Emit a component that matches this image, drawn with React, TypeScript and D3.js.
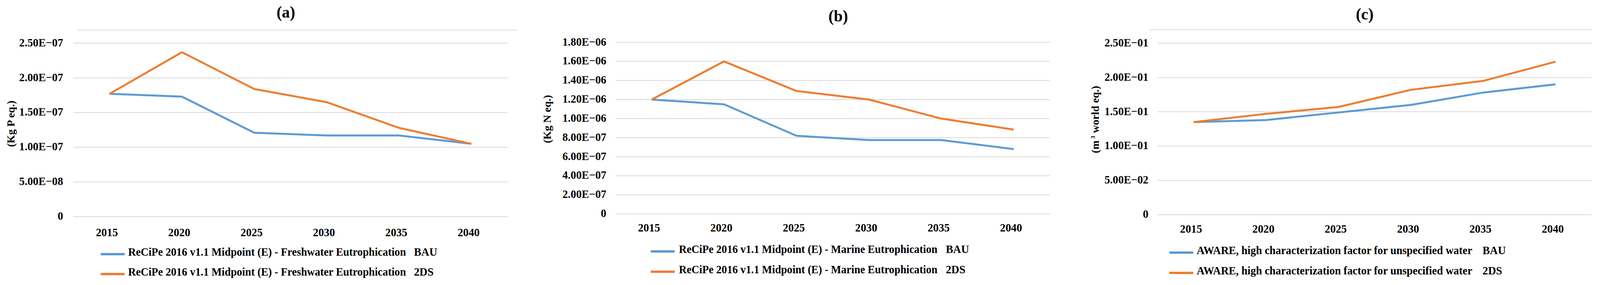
import * as d3 from "d3";

// categories
const YEARS = ["2015", "2020", "2025", "2030", "2035", "2040"];

// (a) freshwater eutrophication, kg P eq.
const FRESH_BAU = [1.77e-7, 1.73e-7, 1.21e-7, 1.17e-7, 1.17e-7, 1.05e-7];
const FRESH_2DS = [1.77e-7, 2.37e-7, 1.84e-7, 1.65e-7, 1.28e-7, 1.05e-7];
const FRESH_TICKS = [0, 5e-8, 1e-7, 1.5e-7, 2e-7, 2.5e-7];

// (b) marine eutrophication, kg N eq.
const MARINE_BAU = [1.2e-6, 1.15e-6, 8.2e-7, 7.75e-7, 7.75e-7, 6.8e-7];
const MARINE_2DS = [1.2e-6, 1.6e-6, 1.29e-6, 1.2e-6, 1.0e-6, 8.85e-7];
const MARINE_TICKS = [0, 2e-7, 4e-7, 6e-7, 8e-7, 1e-6, 1.2e-6, 1.4e-6, 1.6e-6, 1.8e-6];

// (c) AWARE water, m3 world eq.
const WATER_BAU = [0.135, 0.138, 0.149, 0.16, 0.178, 0.19];
const WATER_2DS = [0.135, 0.147, 0.157, 0.182, 0.195, 0.223];
const WATER_TICKS = [0, 0.05, 0.1, 0.15, 0.2, 0.25];

const LEGEND_A = "ReCiPe 2016 v1.1 Midpoint (E) - Freshwater Eutrophication";
const LEGEND_B = "ReCiPe 2016 v1.1 Midpoint (E) - Marine Eutrophication";
const LEGEND_C = "AWARE, high characterization factor for unspecified water";
const SCENARIOS = ["BAU", "2DS"];

const BLUE = "#5B9BD5";
const ORANGE = "#ED7D31";
const GRID = "#D9D9D9";
const FONT = "'Liberation Serif', 'Times New Roman', serif";

const W = 4209;
const H = 730;

// 2.50E−07 style labels
const fmt = (v: number) => {
  if (v === 0) return "0";
  const [m, e] = v.toExponential(2).split("e");
  const n = Math.abs(+e);
  return `${m}E${+e < 0 ? "−" : "+"}${n < 10 ? "0" + n : n}`;
};

type PanelProps = {
  title: string;
  titlePos: [number, number];
  unit: React.ReactNode;
  unitPos: [number, number];
  bau: number[];
  tds: number[];
  ticks: number[];
  x0: number;
  x1: number;
  yBottom: number;
  yTop: number;
  labelRight: number;
  xLabelY: number;
  topLine?: [number, number, number];
  legendName: string;
  swatchX: number;
  textX: number;
  textEnd: number;
  tagX: number;
  rows: [number, number];
};

const Panel = (p: PanelProps) => {
  const xScale = d3.scalePoint<string>().domain(YEARS).range([p.x0, p.x1]).padding(0.5);
  const yScale = d3
    .scaleLinear()
    .domain([0, p.ticks[p.ticks.length - 1]])
    .range([p.yBottom, p.yTop]);

  const line = d3
    .line<number>()
    .x((_, i) => xScale(YEARS[i]) as number)
    .y((d) => yScale(d));

  return (
    <g fontFamily={FONT} fontWeight="bold" fill="#000">
      {p.topLine && (
        <line x1={p.topLine[0]} x2={p.topLine[1]} y1={p.topLine[2]} y2={p.topLine[2]} stroke={GRID} strokeWidth={2} />
      )}
      {p.ticks.map((t) => (
        <g key={t}>
          <line x1={p.x0} x2={p.x1} y1={yScale(t)} y2={yScale(t)} stroke={GRID} strokeWidth={2} />
          <text x={p.labelRight} y={yScale(t) - 2} dy="0.35em" textAnchor="end" fontSize={29}>
            {fmt(t)}
          </text>
        </g>
      ))}
      {YEARS.map((yr) => (
        <text key={yr} x={(xScale(yr) as number) - 7} y={p.xLabelY} textAnchor="middle" fontSize={29}>
          {yr}
        </text>
      ))}
      <path d={line(p.bau) || ""} fill="none" stroke={BLUE} strokeWidth={5} strokeLinejoin="round" />
      <path d={line(p.tds) || ""} fill="none" stroke={ORANGE} strokeWidth={5} strokeLinejoin="round" />

      <text x={p.titlePos[0]} y={p.titlePos[1]} textAnchor="middle" fontSize={42}>
        {p.title}
      </text>
      <text
        transform={`translate(${p.unitPos[0]},${p.unitPos[1]}) rotate(-90)`}
        textAnchor="middle"
        dy="0.35em"
        fontSize={28}
      >
        {p.unit}
      </text>

      {SCENARIOS.map((s, i) => (
        <g key={s}>
          <line
            x1={p.swatchX}
            x2={p.swatchX + 63}
            y1={p.rows[i]}
            y2={p.rows[i]}
            stroke={i === 0 ? BLUE : ORANGE}
            strokeWidth={6}
          />
          <text
            x={p.textX}
            y={p.rows[i] + 4}
            fontSize={29}
            textLength={p.textEnd - p.textX}
            lengthAdjust="spacingAndGlyphs"
          >
            {p.legendName}
          </text>
          <text x={p.tagX} y={p.rows[i] + 4} fontSize={29}>
            {s}
          </text>
        </g>
      ))}
    </g>
  );
};

export default function App() {
  // fill the viewport whatever its exact size, keeping the 4209x730 frame
  return (
    <div style={{ position: "fixed", left: 0, top: 0, width: "100vw", height: "100vh", background: "#fff" }}>
      <svg
        width="100%"
        height="100%"
        viewBox={`0 0 ${W} ${H}`}
        preserveAspectRatio="none"
        style={{ display: "block" }}
      >
        <Panel
          title="(a)"
          titlePos={[752, 45]}
          unit="(Kg P eq.)"
          unitPos={[28, 317]}
          bau={FRESH_BAU}
          tds={FRESH_2DS}
          ticks={FRESH_TICKS}
          x0={193}
          x1={1335}
          yBottom={555}
          yTop={110.6}
          labelRight={166}
          xLabelY={605}
          topLine={[203, 1360, 77]}
          legendName={LEGEND_A}
          swatchX={265}
          textX={337}
          textEnd={1068}
          tagX={1089}
          rows={[651, 702]}
        />
        <Panel
          title="(b)"
          titlePos={[2205, 55]}
          unit="(Kg N eq.)"
          unitPos={[1439, 305]}
          bau={MARINE_BAU}
          tds={MARINE_2DS}
          ticks={MARINE_TICKS}
          x0={1619}
          x1={2762}
          yBottom={548}
          yTop={108.5}
          labelRight={1595}
          xLabelY={593}
          legendName={LEGEND_B}
          swatchX={1712}
          textX={1786}
          textEnd={2466}
          tagX={2488}
          rows={[644, 696]}
        />
        <Panel
          title="(c)"
          titlePos={[3590, 50]}
          unit={
            <>
              <tspan>(m</tspan>
              <tspan dy={-10} fontSize={16}>
                {" 3"}
              </tspan>
              <tspan dy={10}> world eq.)</tspan>
            </>
          }
          unitPos={[2881, 306]}
          bau={WATER_BAU}
          tds={WATER_2DS}
          ticks={WATER_TICKS}
          x0={3045}
          x1={4187}
          yBottom={550}
          yTop={110.6}
          labelRight={3021}
          xLabelY={596}
          topLine={[3024, 4187, 76]}
          legendName={LEGEND_C}
          swatchX={3076}
          textX={3148}
          textEnd={3873}
          tagX={3900}
          rows={[647, 699]}
        />
      </svg>
    </div>
  );
}
